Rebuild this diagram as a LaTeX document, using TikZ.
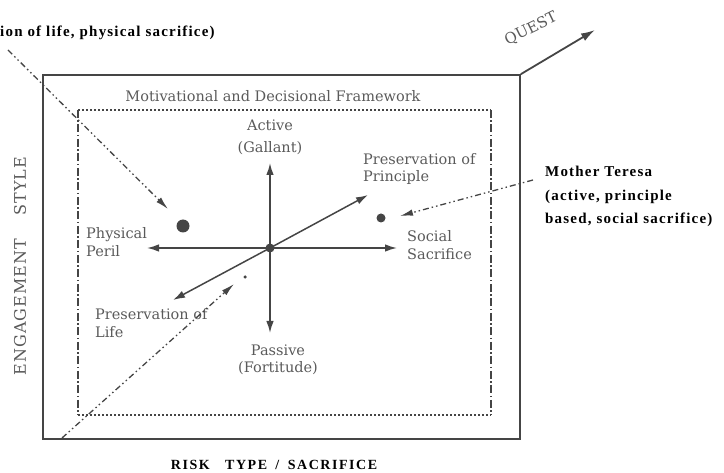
\documentclass[tikz,border=0pt]{standalone}
\usepackage{fontspec}
\setmainfont{DejaVu Serif}
\newfontfamily\tms{Liberation Serif}
\usetikzlibrary{arrows.meta}
\definecolor{ink}{HTML}{454545}
\definecolor{tink}{HTML}{5A5A5A}
\tikzset{
  frame/.style={draw=ink, line width=1.7pt},
  axis/.style={draw=ink, line width=1.5pt, -{Latex[length=12pt,width=7.5pt]}},
  ddot/.style={draw=ink, line width=1.3pt, dash pattern=on 6pt off 3pt on 1.5pt off 3pt on 1.5pt off 3pt},
  ddarrow/.style={ddot, -{Latex[length=13pt,width=6.5pt]}},
  sidedash/.style={draw=ink, line width=1.4pt, dash pattern=on 8pt off 2.5pt on 1.5pt off 2.5pt},
  dotline/.style={draw=ink, line width=2pt, dash pattern=on 2pt off 2pt},
  lbl/.style={text=tink, font=\fontsize{14.5}{17.5}\selectfont, inner sep=0pt, align=left},
  lblc/.style={lbl, align=center},
  note/.style={font=\tms\bfseries\fontsize{15}{23.5}\selectfont\addfontfeature{LetterSpace=8}, inner sep=0pt, align=left, text=black},
  blob/.style={circle, fill=ink, inner sep=0pt},
}
\begin{document}
\begin{tikzpicture}[x=1pt,y=-1pt]
\useasboundingbox (0,0) rectangle (724,473);
% outer frame
\node[frame, minimum width=477pt, minimum height=364pt, inner sep=0pt] (outer) at (281.5,257) {};
% inner framework
\coordinate (itl) at (78,110);
\coordinate (itr) at (491,110);
\coordinate (ibl) at (78,415);
\coordinate (ibr) at (491,415);
\draw[dotline] (itl) -- (itr);
\draw[dotline] (ibl) -- (ibr);
\draw[sidedash] (itl) -- (ibl);
\draw[sidedash] (itr) -- (ibr);
\node[lblc] (title) at (273,96) {Motivational and Decisional Framework};
% quest
\coordinate (qend) at (595,30);
\draw[draw=ink, line width=1.8pt, -{Latex[length=14pt,width=8.5pt]}] (outer.north east) -- (qend);
\node[lblc, rotate=26, font=\fontsize{15}{17}\selectfont] (quest) at (531,29) {QUEST};
% axes
\coordinate (c) at (270,248);
\coordinate (up) at (270,163);
\coordinate (down) at (270,333);
\coordinate (left) at (147,248);
\coordinate (right) at (397,248);
\coordinate (ne) at (368,195);
\coordinate (sw) at (173,300);
\draw[axis] (c) -- (up);
\draw[axis] (c) -- (down);
\draw[axis] (c) -- (left);
\draw[axis] (c) -- (right);
\draw[axis] (c) -- (ne);
\draw[axis] (c) -- (sw);
\node[blob, minimum size=9pt] (cdot) at (c) {};
% labels
\node[lblc, font=\fontsize{14.5}{22}\selectfont] (active) at (270,137) {Active\\(Gallant)};
\node[lblc] (passive) at (278,360) {Passive\\(Fortitude)};
\node[lbl, anchor=west] (peril) at (86,242) {Physical\\Peril};
\node[lbl, anchor=west] (social) at (407,245) {Social\\Sacrifice};
\node[lbl, anchor=west] (principle) at (363,169) {Preservation of\\Principle};
\node[lbl, anchor=west] (life) at (95,323) {Preservation of\\Life};
% dots
\node[blob, minimum size=13pt] (d1) at (183,226) {};
\node[blob, minimum size=9pt] (d2) at (381,218) {};
\node[blob, minimum size=3.5pt] (d3) at (245,277) {};
% annotation arrows
\coordinate (s1) at (8,50);
\coordinate (t1) at (168,209);
\draw[ddarrow] (s1) -- (t1);
\coordinate (s2) at (533,180);
\coordinate (t2) at (400,216);
\draw[ddarrow] (s2) -- (t2);
\coordinate (s3) at (62,438);
\coordinate (t3) at (234,284);
\draw[ddarrow] (s3) -- (t3);
% annotation texts
\node[note, anchor=west] (topnote) at (0,33) {ion of life, physical sacrifice)};
\node[note, anchor=north west] (teresa) at (545,166) {Mother Teresa\\(active, principle\\based, social sacrifice)};
% axis titles
\node[lblc, rotate=90, font=\fontsize{16}{18}\selectfont\addfontfeature{LetterSpace=6}] (eng) at (20,266) {ENGAGEMENT\hspace{1.5em}STYLE};
\node[note, font=\tms\bfseries\fontsize{14}{16}\selectfont\addfontfeature{LetterSpace=11}] (risk) at (274,465) {RISK\hspace{1.1em}TYPE\hspace{0.6em}/\hspace{0.6em}SACRIFICE};
\end{tikzpicture}
\end{document}
